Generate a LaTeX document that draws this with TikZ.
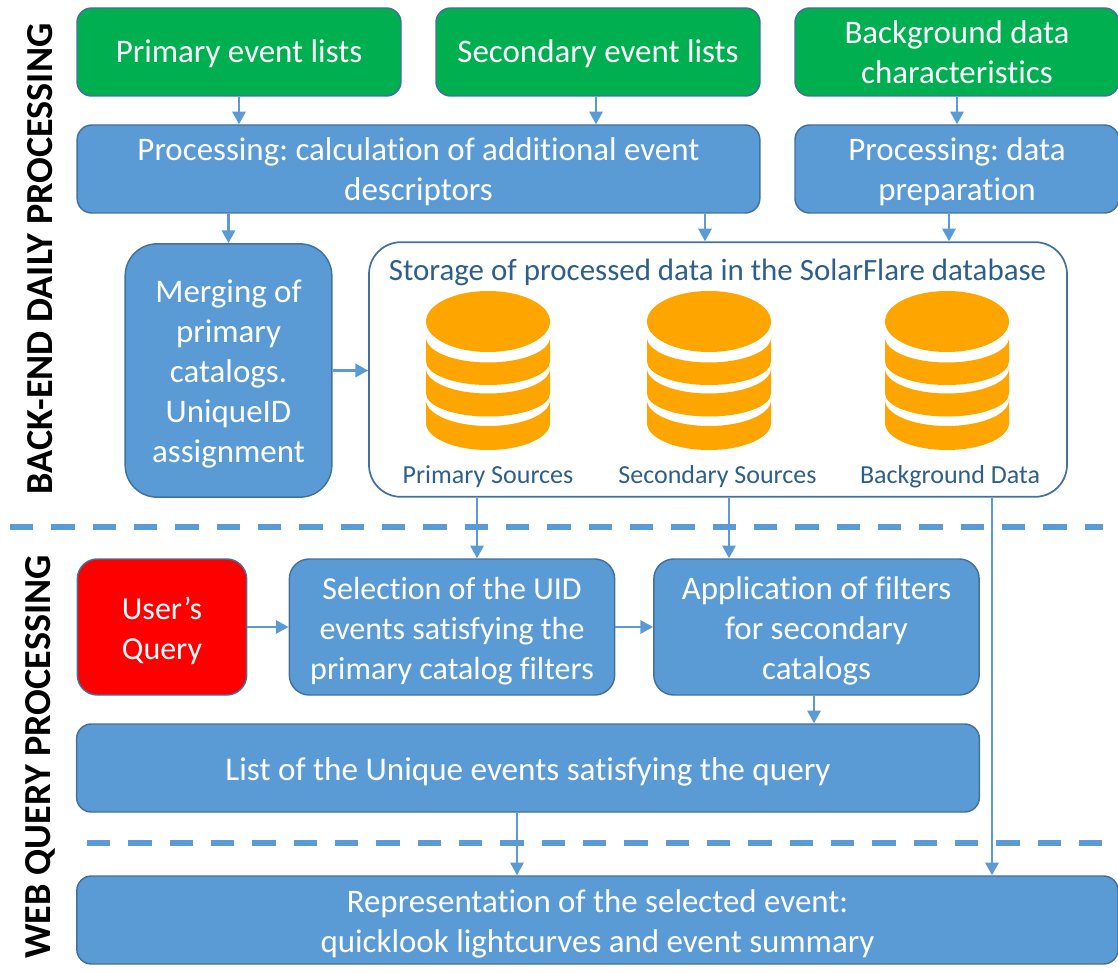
\documentclass[tikz,border=0pt]{standalone}
\usepackage{fontspec}
\setmainfont[Ligatures=NoCommon]{Carlito}
\usetikzlibrary{arrows.meta}
\definecolor{boxblue}{HTML}{5B9BD5}
\definecolor{boxedge}{HTML}{41719C}
\definecolor{boxgreen}{HTML}{00B050}
\definecolor{dbcolor}{HTML}{FFA500}
\definecolor{storetext}{HTML}{2E5F8C}
\tikzset{main box/.style={rectangle,rounded corners=11pt,draw=boxedge,line width=1.1pt,fill=boxblue,
             text=white,align=center,inner sep=0pt,text depth=0pt,font=\fontsize{24.7}{30}\selectfont},
         input box/.style={main box,fill=boxgreen},
         query box/.style={main box,fill=red,rounded corners=15pt},
         store box/.style={main box,fill=white,text=storetext,rounded corners=24pt,line width=1.3pt},
         flow/.style={draw=boxblue,line width=1.6pt,-{Triangle[length=9.5pt,width=10pt]}},
         split/.style={draw=boxblue,line width=4.2pt,dash pattern=on 17.5pt off 13.5pt},
         side title/.style={rotate=90,font=\fontsize{28.6}{30}\selectfont\bfseries,inner sep=0pt},
         store title/.style={text=storetext,inner sep=0pt,font=\fontsize{23.2}{30}\selectfont},
         db title/.style={text=storetext,inner sep=0pt,font=\fontsize{19.5}{22}\selectfont},
         dbstack/.pic={
           \foreach \t/\b/\r/\q in {78.5/101.5/26/27,47/72/25/23,16/40/25/23.5}
             \fill[dbcolor] (-62,-\t) -- (-62,-\b) arc[start angle=180,end angle=360,x radius=62,y radius=\q]
               -- (62,-\t) arc[start angle=360,end angle=180,x radius=62,y radius=\r] -- cycle;
           \fill[dbcolor] (0,0) ellipse[x radius=62,y radius=30.5];
         },
}
\begin{document}
\frenchspacing
\begin{tikzpicture}[x=0.75pt,y=0.75pt]
    \useasboundingbox (0,0) rectangle (1118,-973);

    % green input row
    \node[input box,minimum width=243pt,minimum height=66pt,text height=16pt] (primary) at (239,-52) {Primary event lists};
    \node[input box,minimum width=243pt,minimum height=66pt,text height=16pt] (secondary) at (598,-52) {Secondary event lists};
    \node[input box,minimum width=243pt,minimum height=66pt,text height=48pt] (background) at (957,-52) {Background data\\characteristics};

    \node[main box,minimum width=512pt,minimum height=66pt,text height=47.5pt] (calc) at (418.5,-169) {Processing: calculation of additional event\\descriptors};
    \node[main box,minimum width=243pt,minimum height=66pt,text height=47.5pt] (prep) at (957,-169) {Processing: data\\preparation};

    \node[main box,minimum width=155pt,minimum height=190pt,rounded corners=24pt,text height=138.5pt] (merging) at (228.5,-370.5) {Merging of\\primary\\catalogs.\\UniqueID\\assignment};

    % storage with the three stacks
    \node[store box,minimum width=523.5pt,minimum height=191pt] (storage) at (718,-369.5) {};
    \node[store title] (storetitle) at (717.5,-272.5) {Storage of processed data in the SolarFlare database};
    \pic at (488,-321.5) {dbstack};
    \pic at (709,-321.5) {dbstack};
    \pic at (947,-321.5) {dbstack};
    \node[db title] (dbprimary) at (488,-476.5) {Primary Sources};
    \node[db title] (dbsecondary) at (717.5,-476.5) {Secondary Sources};
    \node[db title] (dbbackground) at (950,-476.5) {Background Data};

    \coordinate (split1a) at (10,-527);
    \coordinate (split1b) at (1103,-527);
    \coordinate (split2a) at (87,-843);
    \coordinate (split2b) at (1103,-843);
    \draw[split] (split1a) -- (split1b);
    \draw[split] (split2a) -- (split2b);

    % query part
    \node[query box,minimum width=127pt,minimum height=102pt,text height=49pt,font=\fontsize{24}{30}\selectfont] (query) at (162,-627) {User’s\\Query};
    \node[main box,rounded corners=15pt,minimum width=244pt,minimum height=102pt,text height=79pt,font=\fontsize{24}{30}\selectfont] (selection) at (452,-627) {Selection of the UID\\events satisfying the\\primary catalog filters};
    \node[main box,rounded corners=15pt,minimum width=244pt,minimum height=102pt,text height=79pt] (filters) at (816.5,-627) {Application of filters\\for secondary\\catalogs};
    \node[main box,minimum width=677pt,minimum height=66pt,text height=18pt,font=\fontsize{24.85}{30}\selectfont] (unique) at (528,-768) {List of the Unique events satisfying the query};
    \node[main box,minimum width=781pt,minimum height=66pt,text height=48.3pt] (result) at (597.5,-920) {Representation of the selected event:\\quicklook lightcurves and event summary};

    \node[side title] (backend) at (40,-259) {BACK-END DAILY PROCESSING};
    \node[side title] (webquery) at (40,-757) {WEB QUERY PROCESSING};

    \coordinate (drop1) at (705,0);
    \coordinate (drop2) at (949,0);
    \coordinate (drop3) at (477,0);
    \coordinate (drop4) at (729,0);
    \coordinate (drop5) at (992,0);
    \coordinate (drop6) at (517,0);
    \coordinate (drop7) at (596,0);
    \coordinate (drop8) at (814,0);

    \path[flow] (primary.south) -- (primary.south |- calc.north);
    \path[flow] (secondary.south -| drop7) -- (calc.north -| drop7);
    \path[flow] (background.south) -- (prep.north);
    \path[flow] (calc.south -| merging.north) -- (merging.north);
    \path[flow] (calc.south -| drop1) -- (storage.north -| drop1);
    \path[flow] (prep.south -| drop2) -- (storage.north -| drop2);
    \path[flow] (merging.east) -- (merging.east -| storage.west);
    \path[flow] (storage.south -| drop3) -- (selection.north -| drop3);
    \path[flow] (storage.south -| drop4) -- (filters.north -| drop4);
    \path[flow] (storage.south -| drop5) -- (result.north -| drop5);
    \path[flow] (query.east) -- (selection.west);
    \path[flow] (selection.east) -- (filters.west);
    \path[flow] (filters.south -| drop8) -- (unique.north -| drop8);
    \path[flow] (unique.south -| drop6) -- (result.north -| drop6);
\end{tikzpicture}
\end{document}
